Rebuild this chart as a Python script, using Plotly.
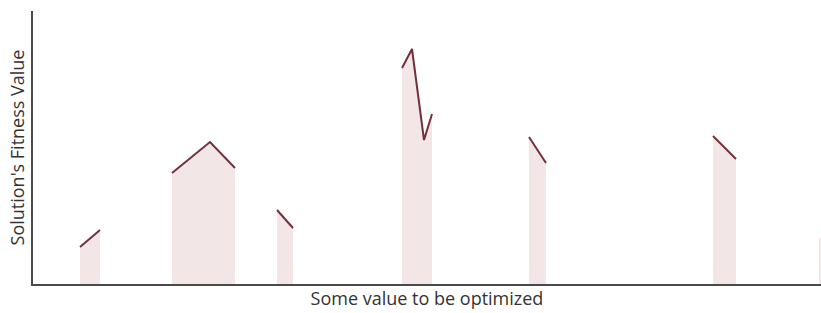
import plotly.graph_objects as go

# Segment data: x position (along the optimized value) and fitness value
seg1_x = [47, 67]
seg1_y = [37, 54]
seg2_x = [139, 177, 202]
seg2_y = [111, 142, 116]
seg3_x = [244, 260]
seg3_y = [74, 56]
seg4_x = [369, 379, 391, 399]
seg4_y = [216, 235, 144, 170]
seg5_x = [496, 513]
seg5_y = [147, 121]
seg6_x = [680, 703]
seg6_y = [148, 125]
seg7_x = [786, 789]
seg7_y = [46, 46]

segments = [
    (seg1_x, seg1_y), (seg2_x, seg2_y), (seg3_x, seg3_y), (seg4_x, seg4_y),
    (seg5_x, seg5_y), (seg6_x, seg6_y),
]

FILL = "#f3e6e6"
LINE = "#73303c"
AXIS = "#4a4a4a"

fig = go.Figure()
for xs, ys in segments:
    fig.add_trace(go.Scatter(x=xs, y=ys, mode="lines", fill="tozeroy",
                             fillcolor=FILL, line=dict(color=LINE, width=2),
                             hoverinfo="skip", showlegend=False))
fig.add_trace(go.Scatter(x=seg7_x, y=seg7_y, mode="lines", fill="tozeroy",
                         fillcolor=FILL, line=dict(color=FILL, width=0),
                         hoverinfo="skip", showlegend=False))

fig.update_layout(
    width=821, height=313,
    margin=dict(l=33, r=0, t=11, b=29),
    paper_bgcolor="white", plot_bgcolor="white",
    font=dict(family="Open Sans", color="#333333"),
    xaxis=dict(range=[0, 788], showgrid=False, zeroline=False, showticklabels=False,
               ticks="", showline=True, linecolor=AXIS, linewidth=2, automargin=False,
               title=dict(text="Some value to be optimized", font=dict(size=18), standoff=7)),
    yaxis=dict(range=[0, 273], showgrid=False, zeroline=False, showticklabels=False,
               ticks="", showline=True, linecolor=AXIS, linewidth=2, automargin=False,
               title=dict(text="Solution's Fitness Value", font=dict(size=18), standoff=2)),
)
fig.write_html("out.html", config={"displayModeBar": False},
               post_script="document.body.style.margin='0';")
